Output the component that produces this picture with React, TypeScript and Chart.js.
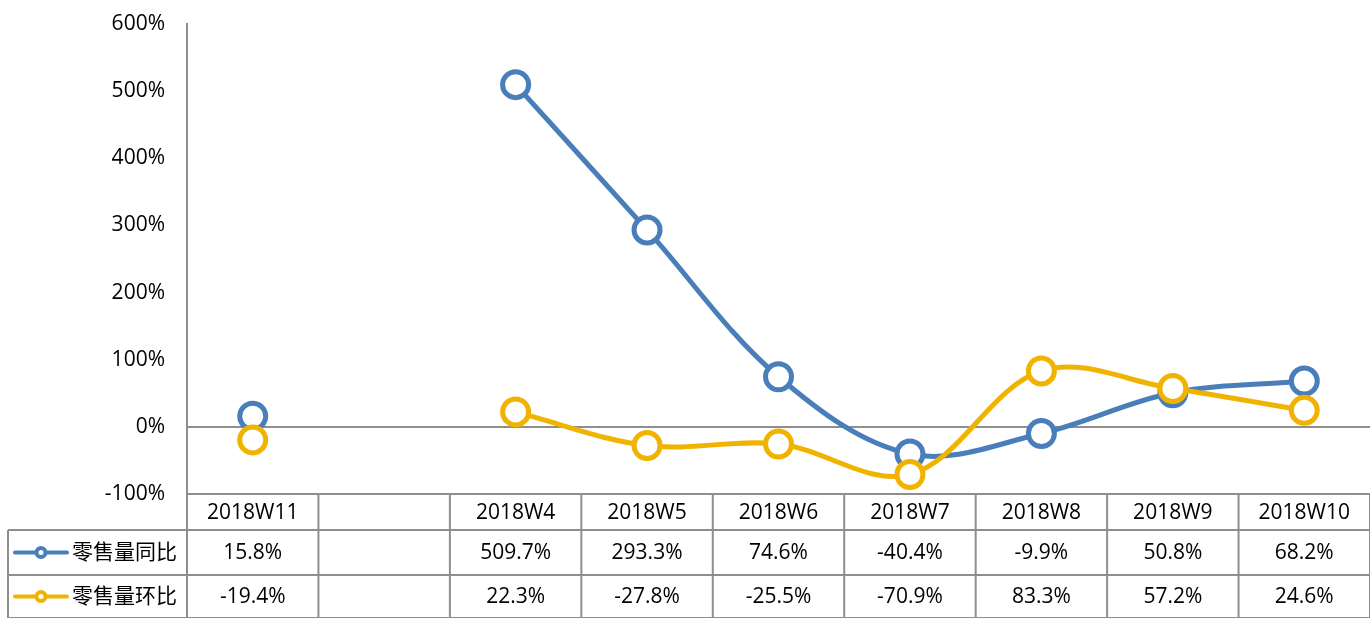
import React, { useEffect, useRef } from "react";
import { Chart, registerables } from "chart.js";

Chart.register(...registerables);

const categories = ["2018W11", "", "2018W4", "2018W5", "2018W6", "2018W7", "2018W8", "2018W9", "2018W10"];
const yoyValues: (number | null)[] = [15.8, null, 509.7, 293.3, 74.6, -40.4, -9.9, 50.8, 68.2];
const momValues: (number | null)[] = [-19.4, null, 22.3, -27.8, -25.5, -70.9, 83.3, 57.2, 24.6];
const seriesNames = ["零售量同比", "零售量环比"];
const seriesColors = ["#4A7EBB", "#F0B400"];
const yTicks = [-100, 0, 100, 200, 300, 400, 500, 600];

const FONT = "'Open Sans', 'Noto Sans CJK SC', sans-serif";
const FONT_SIZE = 21;
const GRID = "#8e8e8e";

const tablePlugin = {
  id: "dataTable",
  afterDraw(chart: any) {
    const ctx = chart.ctx as CanvasRenderingContext2D;
    const area = chart.chartArea;
    const xScale = chart.scales.x;
    const n = categories.length;
    const colW = (area.right - area.left) / n;
    const top = area.bottom;
    const rowH = [36, 45, 43];
    const y1 = top + rowH[0];
    const y2 = y1 + rowH[1];
    const y3 = y2 + rowH[2];
    const legendLeft = 8;

    ctx.save();
    ctx.strokeStyle = GRID;
    ctx.lineWidth = 2;
    ctx.beginPath();
    ctx.moveTo(area.left, top);
    ctx.lineTo(area.right, top);
    ctx.moveTo(legendLeft, y1);
    ctx.lineTo(area.right, y1);
    ctx.moveTo(legendLeft, y2);
    ctx.lineTo(area.right, y2);
    ctx.moveTo(legendLeft, y3);
    ctx.lineTo(area.right, y3);
    for (let i = 0; i <= n; i++) {
      const x = area.left + i * colW;
      ctx.moveTo(x, top);
      ctx.lineTo(x, y3);
    }
    ctx.moveTo(legendLeft, y1);
    ctx.lineTo(legendLeft, y3);
    ctx.stroke();

    ctx.fillStyle = "#000";
    ctx.font = `${FONT_SIZE}px ${FONT}`;
    ctx.textAlign = "center";
    ctx.textBaseline = "middle";
    const rows = [yoyValues, momValues];
    for (let i = 0; i < n; i++) {
      const cx = xScale.getPixelForValue(i);
      ctx.fillText(categories[i], cx, top + rowH[0] / 2 + 1);
      rows.forEach((vals, r) => {
        const v = vals[i];
        if (v !== null) {
          const cy = r === 0 ? y1 + rowH[1] / 2 : y2 + rowH[2] / 2;
          ctx.fillText(v.toFixed(1) + "%", cx, cy + 1);
        }
      });
    }

    // legend keys
    rows.forEach((_, r) => {
      const cy = r === 0 ? y1 + rowH[1] / 2 : y2 + rowH[2] / 2;
      ctx.strokeStyle = seriesColors[r];
      ctx.lineWidth = 4;
      ctx.lineCap = "round";
      ctx.beginPath();
      ctx.moveTo(15, cy);
      ctx.lineTo(67, cy);
      ctx.stroke();
      ctx.beginPath();
      ctx.arc(41, cy, 4.5, 0, Math.PI * 2);
      ctx.fillStyle = "#fff";
      ctx.fill();
      ctx.stroke();
      ctx.fillStyle = "#000";
      ctx.textAlign = "left";
      ctx.fillText(seriesNames[r], 72, cy + 1);
    });
    ctx.restore();
  },
};

export default function App() {
  const ref = useRef<HTMLCanvasElement>(null);
  useEffect(() => {
    if (!ref.current) return;
    const mk = (i: number, data: (number | null)[]) => ({
      label: seriesNames[i],
      data,
      borderColor: seriesColors[i],
      backgroundColor: "#fff",
      borderWidth: 5,
      tension: 0.35,
      spanGaps: false,
      pointRadius: 13,
      pointBorderWidth: 5,
      pointBackgroundColor: "#fff",
      pointBorderColor: seriesColors[i],
      clip: false as any,
    });
    const chart = new Chart(ref.current, {
      type: "line",
      data: {
        labels: categories,
        datasets: [mk(1, momValues), mk(0, yoyValues)],
      },
      options: {
        responsive: false,
        animation: false,
        layout: { autoPadding: false, padding: { top: 24, right: 0, bottom: 124, left: 0 } },
        plugins: { legend: { display: false }, tooltip: { enabled: false } },
        scales: {
          x: { type: "category", offset: true, display: false },
          y: {
            min: -100,
            max: 600,
            afterBuildTicks(scale: any) {
              scale.ticks = yTicks.map((v) => ({ value: v }));
            },
            afterFit(scale: any) {
              scale.width = 187;
              scale.paddingTop = 0;
              scale.paddingBottom = 0;
            },
            border: { display: true, color: GRID, width: 2 },
            grid: {
              drawTicks: false,
              color: (c: any) => (c.tick && c.tick.value === 0 ? GRID : "transparent"),
              lineWidth: 2,
            },
            ticks: {
              padding: 22,
              color: "#000",
              font: { family: FONT, size: FONT_SIZE },
              callback: (v: any) => v + "%",
            },
          },
        },
      },
      plugins: [tablePlugin],
    });
    return () => chart.destroy();
  }, []);
  return (
    <div style={{ position: "absolute", left: 0, top: 0, width: 1370, height: 618, background: "#fff" }}>
      <canvas ref={ref} width={1370} height={618} />
    </div>
  );
}
